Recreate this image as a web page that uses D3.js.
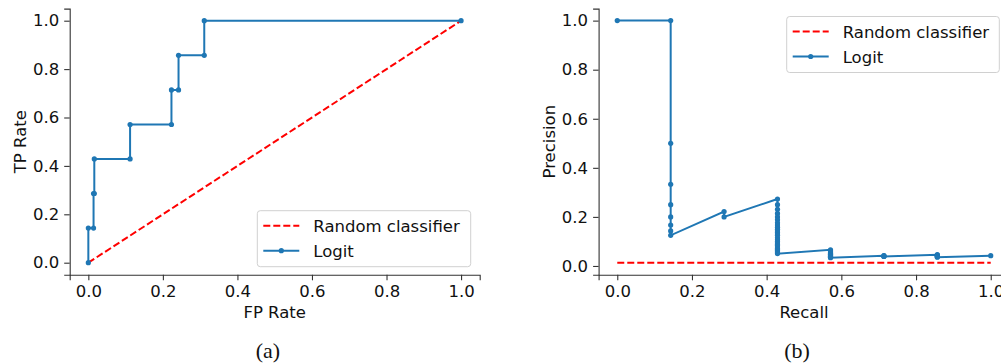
<!doctype html>
<html>
<head>
<meta charset="utf-8">
<script src="https://d3js.org/d3.v7.min.js"></script>
<style>
  body { margin: 0; background: #fff; }
  svg { font-family: "DejaVu Sans", sans-serif; display: block; }
</style>
</head>
<body>
<script>
// ROC curve (panel a)
var rocFpr = [0, 0, 0.014, 0.014, 0.016, 0.016, 0.112, 0.112, 0.223, 0.223, 0.242, 0.242, 0.311, 0.311, 1.0];
var rocTpr = [0, 0.143, 0.143, 0.286, 0.286, 0.429, 0.429, 0.571, 0.571, 0.714, 0.714, 0.857, 0.857, 1.0, 1.0];
var rocRandom = [0, 1];

// Precision-recall curve (panel b), one precision list per recall level
var recallLevels = [0, 0.143, 0.286, 0.429, 0.571, 0.714, 0.857, 1.0];
var precisionAtRecall = [
  [1.0],
  [1.0, 0.5, 0.333, 0.25, 0.2, 0.167, 0.143, 0.125],
  [0.222, 0.2],
  [0.273, 0.25, 0.231, 0.214, 0.2, 0.188, 0.176, 0.167, 0.158, 0.15, 0.143, 0.136, 0.13,
   0.125, 0.115, 0.107, 0.1, 0.094, 0.088, 0.083, 0.077, 0.071, 0.067, 0.063, 0.058, 0.054, 0.05],
  [0.066, 0.062, 0.058, 0.054, 0.051, 0.048, 0.045, 0.043, 0.04, 0.038, 0.036, 0.034],
  [0.042, 0.041, 0.04, 0.039],
  [0.046, 0.044, 0.042, 0.04, 0.038, 0.036],
  [0.042]
];
var prRandomRecall = [0, 1];
var prRandomPrecision = [0.0135, 0.0135];

var ticks = [0, 0.2, 0.4, 0.6, 0.8, 1.0];
var blue = "#1f77b4";

var svg = d3.select("body").append("svg")
    .attr("width", 1001)
    .attr("height", 364);

var rocData = rocFpr.map(function(d, i) { return [d, rocTpr[i]]; });
var prData = [];
recallLevels.forEach(function(r, i) {
  precisionAtRecall[i].forEach(function(p) { prData.push([r, p]); });
});

function panel(opts) {
  var x = d3.scaleLinear().domain(opts.xDomain).range(opts.xRange);
  var y = d3.scaleLinear().domain(opts.yDomain).range(opts.yRange);
  var g = svg.append("g");

  // axes
  var xa = g.append("g")
      .attr("transform", "translate(0," + opts.yRange[0] + ")")
      .call(d3.axisBottom(x).tickValues(ticks).tickFormat(d3.format(".1f"))
        .tickSizeOuter(0).tickSize(5.5).tickPadding(5));
  var ya = g.append("g")
      .attr("transform", "translate(" + opts.xRange[0] + ",0)")
      .call(d3.axisLeft(y).tickValues(ticks).tickFormat(d3.format(".1f"))
        .tickSizeOuter(0).tickSize(5.5).tickPadding(5));
  [xa, ya].forEach(function(a) {
    a.selectAll("path.domain").attr("stroke", "#333").attr("stroke-width", 1.1);
    a.selectAll(".tick line").attr("stroke", "#333").attr("stroke-width", 1.1);
    a.selectAll(".tick text").attr("font-size", "16.5px").attr("font-family", "DejaVu Sans").attr("fill", "#111");
  });

  // axis labels
  g.append("text")
      .attr("x", (opts.xRange[0] + opts.xRange[1]) / 2)
      .attr("y", 318)
      .attr("text-anchor", "middle")
      .attr("font-size", "16.5px")
      .attr("fill", "#111")
      .text(opts.xLabel);
  g.append("text")
      .attr("transform", "translate(" + opts.yLabelX + "," + (opts.yRange[0] + opts.yRange[1]) / 2 + ") rotate(-90)")
      .attr("text-anchor", "middle")
      .attr("font-size", "16.5px")
      .attr("fill", "#111")
      .text(opts.yLabel);

  var line = d3.line().x(function(d) { return x(d[0]); }).y(function(d) { return y(d[1]); });

  // random classifier
  g.append("path")
      .datum(opts.random)
      .attr("d", line)
      .attr("fill", "none")
      .attr("stroke", "red")
      .attr("stroke-width", 2)
      .attr("stroke-dasharray", "7,3");

  // logit curve
  g.append("path")
      .datum(opts.data)
      .attr("d", line)
      .attr("fill", "none")
      .attr("stroke", blue)
      .attr("stroke-width", 2);
  g.selectAll(".pt")
      .data(opts.data)
      .enter().append("circle")
      .attr("class", "pt")
      .attr("cx", function(d) { return x(d[0]); })
      .attr("cy", function(d) { return y(d[1]); })
      .attr("r", 2.6)
      .attr("fill", blue);

  // legend
  var L = opts.legend;
  var lg = g.append("g").attr("transform", "translate(" + L.x + "," + L.y + ")");
  lg.append("rect")
      .attr("width", L.w).attr("height", 56)
      .attr("rx", 3)
      .attr("fill", "white").attr("fill-opacity", 0.8)
      .attr("stroke", "#d0d0d0").attr("stroke-width", 1);
  lg.append("line")
      .attr("x1", 6).attr("x2", 42).attr("y1", 15).attr("y2", 15)
      .attr("stroke", "red").attr("stroke-width", 2).attr("stroke-dasharray", "7,3");
  lg.append("line")
      .attr("x1", 6).attr("x2", 42).attr("y1", 40).attr("y2", 40)
      .attr("stroke", blue).attr("stroke-width", 2);
  lg.append("circle").attr("cx", 24).attr("cy", 40).attr("r", 2.6).attr("fill", blue);
  lg.append("text").attr("x", 56).attr("y", 21).attr("font-size", "16.5px").attr("fill", "#111").text("Random classifier");
  lg.append("text").attr("x", 56).attr("y", 46).attr("font-size", "16.5px").attr("fill", "#111").text("Logit");

  // caption
  svg.append("text")
      .attr("x", opts.captionX)
      .attr("y", 358)
      .attr("text-anchor", "middle")
      .attr("font-family", "Liberation Serif, serif")
      .attr("font-size", "22px")
      .attr("fill", "#111")
      .text(opts.caption);
}

panel({
  xDomain: [-0.05, 1.05], xRange: [69.7, 479.7],
  yDomain: [-0.05, 1.05], yRange: [274.8, 8.6],
  xLabel: "FP Rate", yLabel: "TP Rate", yLabelX: 26,
  random: rocRandom.map(function(d) { return [d, d]; }),
  data: rocData,
  legend: { x: 257.3, y: 210.7, w: 213.4 },
  caption: "(a)", captionX: 268
});

panel({
  xDomain: [-0.05, 1.05], xRange: [598.6, 1009.4],
  yDomain: [-0.036, 1.049], yRange: [274.8, 8.6],
  xLabel: "Recall", yLabel: "Precision", yLabelX: 555,
  random: prRandomRecall.map(function(d, i) { return [d, prRandomPrecision[i]]; }),
  data: prData,
  legend: { x: 786.7, y: 16.5, w: 212.6 },
  caption: "(b)", captionX: 797
});
</script>
</body>
</html>
